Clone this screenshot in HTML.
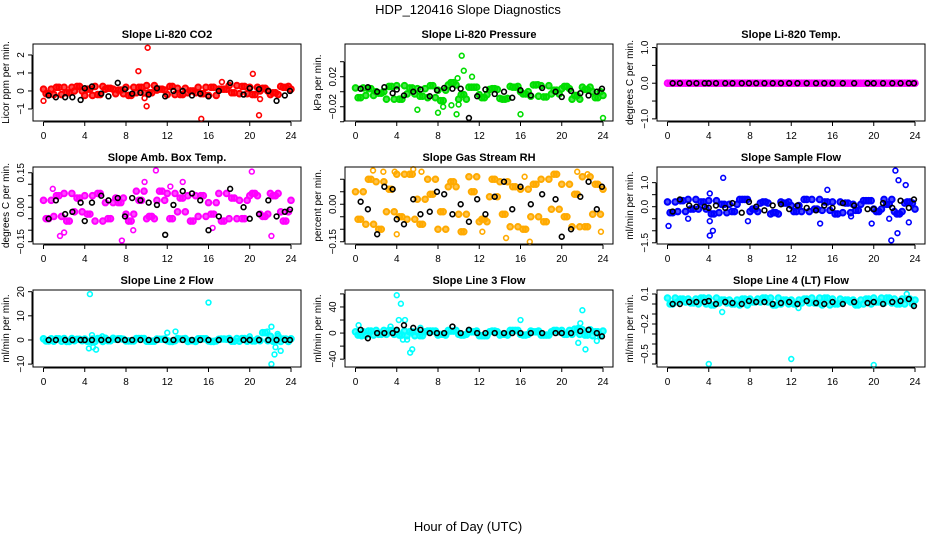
<!DOCTYPE html>
<html><head><meta charset="utf-8"><style>
html,body{margin:0;padding:0;background:#fff;width:936px;height:540px;overflow:hidden}
svg{font-family:"Liberation Sans",sans-serif}
</style></head><body>
<svg id="chart" width="936" height="540" viewBox="0 0 936 540">
<text x="468" y="14" text-anchor="middle" font-size="13">HDP_120416  Slope Diagnostics</text>
<text x="468" y="531" text-anchor="middle" font-size="13">Hour of Day (UTC)</text>
</svg>
<script>
// shared x categories (hours)
const hoursA = [0,1,2,3,4,5,6,7,8,9,10,11,12,13,14,15,16,17,18,19,20,21,22,23,24];
const hoursB = [0.5,1.5,2.5,3.5,4.5,5.5,6.5,7.5,8.5,9.5,10.5,11.5,12.5,13.5,14.5,15.5,16.5,17.5,18.5,19.5,20.5,21.5,22.5,23.5];
const hoursK = [0.5,1.2,2.1,2.8,3.6,4.0,4.7,5.6,6.3,7.2,7.9,8.6,9.4,10.2,11.0,11.8,12.6,13.5,14.4,15.2,16.0,17.0,18.1,19.4,20.0,20.9,21.8,22.6,23.4,23.9];
const xTicks = [0,4,8,12,16,20,24];

// Panel 1 CO2
const co2A = [0.1,-0.2,0.2,0.0,-0.25,0.25,0.1,-0.15,0.2,-0.1,0.3,0.05,-0.2,0.15,-0.1,0.2,-0.25,0.1,0.3,-0.15,0.2,0.0,-0.2,0.25,0.1];
const co2B = [-0.15,0.2,-0.1,0.25,0.1,-0.2,0.15,0.05,-0.25,0.2,-0.1,0.1,0.25,-0.2,0.0,-0.15,0.2,0.1,-0.1,0.25,-0.2,0.15,-0.1,0.2];
const co2Out = [[0,-0.55],[9.2,1.1],[10.1,2.4],[10.0,-0.85],[15.3,-1.55],[20.3,0.95],[20.9,-1.35],[17.3,0.5],[9.8,-0.4],[21,-0.45]];
const co2K = [-0.25,-0.35,-0.35,-0.35,-0.5,0.15,0.25,-0.15,-0.3,0.45,0.1,-0.15,-0.1,-0.2,0.15,-0.3,0.0,0.0,-0.25,-0.15,-0.3,0.0,0.45,-0.2,0.15,0.1,0.0,-0.55,-0.25,0.0];
// Panel 2 Pressure
const presA = [0.005,-0.005,0.0,-0.01,0.008,-0.003,0.004,-0.008,0.002,0.009,-0.01,0.006,-0.004,0.003,-0.009,0.007,0.0,-0.006,0.008,-0.003,0.004,-0.01,0.006,0.0,-0.005];
const presB = [-0.008,0.004,-0.002,0.007,-0.01,0.005,-0.006,0.008,-0.012,0.012,-0.004,0.006,-0.008,0.004,-0.01,0.006,-0.003,0.009,-0.007,0.002,0.007,-0.005,0.003,-0.008];
const presOut = [[10.3,0.048],[10.5,0.028],[9.9,0.018],[11.3,0.02],[9.3,-0.018],[8.0,-0.028],[9.8,-0.03],[6.0,-0.024],[16.0,-0.03],[24,-0.035],[8.5,-0.02],[10.0,-0.017],[17.7,0.01]];
const presK = [0.004,0.006,0.0,0.006,-0.002,0.003,-0.005,0.0,0.003,-0.006,0.002,0.005,0.004,0.004,-0.035,-0.006,0.003,-0.003,0.0,-0.008,0.002,-0.005,0.005,0.0,-0.007,0.001,-0.002,-0.005,0.0,0.004];
// Panel 3 Temp
const tempA = [0,0,0,0,0,0,0,0,0,0,0,0,0,0,0,0,0,0,0,0,0,0,0,0,0];
const tempB = [0,0,0,0,0,0,0,0,0,0,0,0,0,0,0,0,0,0,0,0,0,0,0,0];
const tempOut = [];
const tempK = [0,0,0,0,0,0,0,0,0,0,0,0,0,0,0,0,0,0,0,0,0,0,0,0,0,0,0,0,0,0];
// Panel 4 Amb box temp
const ambA = [0.03,-0.04,0.06,-0.02,0.05,-0.06,0.02,0.04,-0.03,0.07,-0.05,0.03,0.06,-0.02,0.05,-0.04,0.02,0.06,-0.05,0.03,0.05,-0.03,0.06,-0.02,0.03];
const ambB = [-0.05,0.05,-0.06,0.04,-0.03,0.06,-0.05,0.02,-0.06,0.03,-0.04,0.07,-0.05,0.04,-0.06,0.05,-0.03,-0.06,0.04,-0.05,0.06,-0.04,0.05,-0.06];
const ambOut = [[1.6,-0.125],[7.6,-0.145],[10.9,0.16],[20.2,0.155],[22.1,-0.125],[9.8,0.11],[13.5,0.11],[2.0,-0.11],[16.4,-0.09],[12.3,0.09],[8.7,-0.1],[0.9,0.08]];
const ambK = [-0.05,0.03,-0.03,-0.02,0.02,-0.06,0.02,0.05,0.03,0.04,-0.04,0.04,0.03,0.02,0.01,-0.12,0.01,0.07,0.06,0.03,-0.1,-0.04,0.08,0.0,-0.05,-0.03,0.03,-0.04,-0.02,-0.01];
// Panel 5 RH
const rhA = [0.05,-0.08,0.09,-0.03,0.12,-0.06,0.02,0.1,-0.1,0.07,-0.04,0.11,-0.07,0.03,0.09,-0.09,0.06,-0.05,0.1,-0.02,0.08,-0.09,0.11,-0.04,0.06];
const rhB = [-0.06,0.1,-0.1,0.06,-0.05,0.12,-0.08,0.04,-0.03,0.09,-0.11,0.05,-0.06,0.1,-0.04,0.07,-0.1,0.08,-0.07,0.12,-0.05,0.04,-0.09,0.08];
const rhOut = [[1.7,0.135],[3.8,0.13],[5.6,0.14],[6.4,0.13],[4.0,-0.12],[14.6,-0.135],[16.9,-0.15],[21.5,0.13],[22.5,0.12],[12.3,-0.11],[23.8,-0.11],[2.7,0.13],[16.4,0.11]];
const rhK = [0.01,-0.02,-0.12,0.07,0.06,-0.06,-0.08,0.02,-0.04,-0.03,0.05,0.04,-0.04,0.0,-0.07,0.02,-0.04,0.03,0.09,-0.02,0.07,0.0,0.04,0.02,-0.13,-0.1,0.03,0.09,-0.02,0.07];
// Panel 6 Sample flow
const sfA = [0.2,-0.2,0.3,-0.1,0.25,-0.25,0.1,0.3,-0.2,0.15,-0.3,0.2,0.05,-0.2,0.3,-0.15,0.2,-0.25,0.1,0.25,-0.1,0.3,-0.2,0.15,-0.1];
const sfB = [-0.25,0.25,-0.1,0.2,-0.3,0.1,-0.2,0.3,-0.1,0.2,-0.25,0.15,-0.2,0.3,-0.1,0.2,-0.3,0.15,-0.15,0.25,-0.2,0.1,-0.3,0.2];
const sfOut = [[0.1,-0.8],[4.1,-1.2],[4.4,-1.0],[4.1,-0.6],[5.4,1.2],[4.1,0.55],[2.0,-0.5],[14.8,-0.7],[15.5,0.7],[21.7,-1.4],[22.1,1.5],[22.4,1.1],[22.3,-1.1],[23.1,0.9],[23.4,-0.65],[21.5,-0.5],[19.8,-0.7],[7.8,-0.6],[17.8,-0.4]];
const sfK = [-0.2,0.3,0.05,0.0,0.0,-0.05,0.05,-0.05,0.15,-0.25,0.2,0.0,-0.15,0.05,0.1,-0.1,0.05,-0.05,-0.15,0.05,-0.05,0.15,0.05,-0.1,-0.1,0.15,-0.05,0.25,-0.05,0.3];
// Panel 7 Line 2
const l2A = [0.5,-0.5,0.6,-0.3,0.4,-0.6,0.7,0.3,-0.4,0.6,-0.5,0.4,-0.3,0.6,-0.6,0.5,-0.4,0.3,0.6,-0.5,0.4,-0.3,1.5,-0.6,0.5];
const l2B = [-0.4,0.5,-0.6,0.3,-0.5,0.6,-0.3,0.5,-0.4,0.6,-0.5,0.3,-0.6,0.4,-0.3,0.5,-0.6,0.4,-0.5,0.6,-0.4,3.0,-0.5,0.4];
const l2Out = [[4.5,19],[16,15.5],[12,3],[12.8,3.5],[22.1,-10],[22.1,5.5],[22.5,-3],[22.7,2.5],[23.0,-4.5],[22.4,-6],[4.4,-3.5],[4.8,-3],[5.1,-4],[4.7,2],[21.7,3.5],[20,1.5],[5.7,1.5]];
const l2K = [0,0,0,0,0,0,0,0,0,0,0,0,0,0,0,0,0,0,0,0,0,0,0,0,0,0,0,0,0,0];
// Panel 8 Line 3
const l3A = [2,-3,4,-2,3,-4,2,3,-3,4,-2,3,-4,2,-3,4,-2,3,-3,2,4,-2,5,-4,3];
const l3B = [-3,3,-2,4,-3,2,-4,3,-2,3,-3,2,-4,3,-2,4,-3,2,-3,4,-2,6,-3,2];
const l3Out = [[0.3,12],[0.6,-5],[4,58],[4.4,45],[4.2,20],[5.3,-30],[5.5,-25],[4.8,20],[3.4,10],[5.0,-10],[6.3,8],[16,20],[21.6,-15],[21.8,15],[22,35],[22.3,-25],[21.6,8],[23.4,-12],[4.6,-10]];
const l3K = [5,-8,0,0,0,5,12,8,5,0,0,0,10,0,5,0,0,0,0,0,0,0,0,0,0,0,3,5,0,-5];
// Panel 9 Line 4
const l4A = [0.06,0.02,0.05,0.0,0.06,0.01,0.04,-0.01,0.05,0.02,0.06,0.0,0.04,0.01,0.06,-0.01,0.05,0.02,0.04,0.0,0.06,0.01,0.05,0.0,0.04];
const l4B = [0.0,0.05,0.01,0.06,-0.01,0.04,0.0,0.05,0.02,0.06,-0.01,0.04,0.0,0.05,0.01,0.06,0.0,0.04,-0.01,0.05,0.02,0.06,0.0,0.05];
const l4Out = [[4,-0.6],[12,-0.55],[20,-0.61],[12.7,-0.04],[23.2,0.1],[5.3,-0.08],[1.2,0.05]];
const l4K = [0.0,0.0,0.02,0.02,0.02,0.03,0.0,0.02,0.01,0.0,0.03,0.02,0.02,0.0,0.01,0.02,0.0,0.03,0.01,0.0,0.02,0.0,0.02,0.01,0.02,0.0,0.02,0.03,0.05,-0.02];

const panels = [
 {name:'co2',title:'Slope Li-820 CO2',yl:'Licor ppm per min.',col:0,row:0,color:'#ff0000',ylim:[-1.67,2.61],ticks:[-1,0,1,2],labels:['\u22121','0','1','2'],A:co2A,B:co2B,O:co2Out,K:co2K},
 {name:'pressure',title:'Slope Li-820 Pressure',yl:'kPa per min.',col:1,row:0,color:'#00dd00',ylim:[-0.039,0.0636],ticks:[-0.04,-0.02,0,0.02,0.04],labels:['','\u22120.02','','0.02',''],A:presA,B:presB,O:presOut,K:presK},
 {name:'temp',title:'Slope Li-820 Temp.',yl:'degrees C per min.',col:2,row:0,color:'#ff00ff',ylim:[-1.06,1.10],ticks:[-1,-0.5,0,0.5,1],labels:['\u22121.0','','0.0','','1.0'],A:tempA,B:tempB,O:tempOut,K:tempK},
 {name:'amb-temp',title:'Slope Amb. Box Temp.',yl:'degrees C per min.',col:0,row:1,color:'#ff00ff',ylim:[-0.16,0.175],ticks:[-0.15,-0.1,-0.05,0,0.05,0.1,0.15],labels:['\u22120.15','','','0.00','','','0.15'],A:ambA,B:ambB,O:ambOut,K:ambK},
 {name:'rh',title:'Slope Gas Stream RH',yl:'percent per min.',col:1,row:1,color:'#ffaa00',ylim:[-0.159,0.149],ticks:[-0.15,-0.1,-0.05,0,0.05,0.1],labels:['\u22120.15','','','0.00','',''],A:rhA,B:rhB,O:rhOut,K:rhK},
 {name:'sample-flow',title:'Slope Sample Flow',yl:'ml/min per min.',col:2,row:1,color:'#0000ff',ylim:[-1.55,1.65],ticks:[-1.5,-1,-0.5,0,0.5,1],labels:['\u22121.5','','','0.0','','1.0'],A:sfA,B:sfB,O:sfOut,K:sfK},
 {name:'line2-flow',title:'Slope Line 2 Flow',yl:'ml/min per min.',col:0,row:2,color:'#00ffff',ylim:[-11.2,20.7],ticks:[-10,0,10,20],labels:['\u221210','0','10','20'],A:l2A,B:l2B,O:l2Out,K:l2K},
 {name:'line3-flow',title:'Slope Line 3 Flow',yl:'ml/min per min.',col:1,row:2,color:'#00ffff',ylim:[-52,66],ticks:[-40,-20,0,20,40,60],labels:['\u221240','','0','','40',''],A:l3A,B:l3B,O:l3Out,K:l3K},
 {name:'line4-flow',title:'Slope Line 4 (LT) Flow',yl:'ml/min per min.',col:2,row:2,color:'#00ffff',ylim:[-0.63,0.14],ticks:[-0.6,-0.5,-0.4,-0.3,-0.2,-0.1,0,0.1],labels:['','\u22120.5','','','\u22120.2','','','0.1'],A:l4A,B:l4B,O:l4Out,K:l4K}
];

const svg = document.getElementById('chart');
const NS = 'http://www.w3.org/2000/svg';
function mk(tag, attrs, parent){
  const e = document.createElementNS(NS, tag);
  for (const k in attrs) e.setAttribute(k, attrs[k]);
  parent.appendChild(e);
  return e;
}

panels.forEach(p => {
  const L = 33 + 312*p.col, R = L + 268;
  const T = 44 + 123*p.row, B = T + 77;
  const xs = h => L + 10.5 + h*(247.5/24);
  const ys = v => B - (v - p.ylim[0])/(p.ylim[1]-p.ylim[0])*(B-T);
  const g = mk('g', {}, svg);
  
  

  const title = mk('text', {x:(L+R)/2, y:T-6, 'text-anchor':'middle', 'font-size':11, 'font-weight':'bold'}, g);
  title.textContent = p.title;
  
  

  const yt = mk('text', {transform:`translate(${L-24},${(T+B)/2}) rotate(-90)`, 'text-anchor':'middle', 'font-size':10}, g);
  yt.textContent = p.yl;
  
  

  const xa = mk('g', {}, g);
  
  
  mk('line', {x1:xs(0), x2:xs(24), y1:B+1, y2:B+1, stroke:'#000'}, xa);
  xTicks.forEach(t => {
    mk('line', {x1:xs(t), x2:xs(t), y1:B+1, y2:B+5, stroke:'#000'}, xa);
    const tl = mk('text', {x:xs(t), y:B+18, 'text-anchor':'middle', 'font-size':10}, xa);
    tl.textContent = t;
    
    
  });
  const ya = mk('g', {}, g);
  
  
  mk('line', {x1:L-1, x2:L-1, y1:ys(p.ticks[0]), y2:ys(p.ticks[p.ticks.length-1]), stroke:'#000'}, ya);
  p.ticks.forEach((t,i) => {
    mk('line', {x1:L-5, x2:L-1, y1:ys(t), y2:ys(t), stroke:'#000'}, ya);
    if (p.labels[i]) {
      const tl = mk('text', {transform:`translate(${L-9},${ys(t)}) rotate(-90)`, 'text-anchor':'middle', 'font-size':10}, ya);
      tl.textContent = p.labels[i];
      
      
    }
  });
  const pts = mk('g', {fill:p.color, 'fill-opacity':0.7, stroke:p.color, 'stroke-width':2}, g);
  
  
  const dot = (h, v, parent, r) => {
    const c = mk('circle', {cx:xs(h), cy:ys(v), r:r}, parent);
    
    
  };
  p.A.forEach((v,i) => dot(hoursA[i], v, pts, 2.8));
  p.B.forEach((v,i) => dot(hoursB[i], v, pts, 2.8));
  p.A.forEach((v,i) => { if (i < p.B.length) dot(hoursA[i]+0.25, p.B[i], pts, 2.8); });
  p.B.forEach((v,i) => dot(hoursB[i]+0.25, p.A[i], pts, 2.8));
  const outs = mk('g', {fill:'none', stroke:p.color, 'stroke-width':1.6}, g);
  
  
  p.O.forEach(o => dot(o[0], o[1], outs, 2.4));
  const blk = mk('g', {fill:'none', stroke:'#000', 'stroke-width':1.6}, g);
  
  
  p.K.forEach((v,i) => dot(hoursK[i], v, blk, 2.4));

  const box = mk('rect', {x:L, y:T, width:R-L, height:B-T, fill:'none', stroke:'#000'}, g);
  
  
});
</script>
</body></html>
